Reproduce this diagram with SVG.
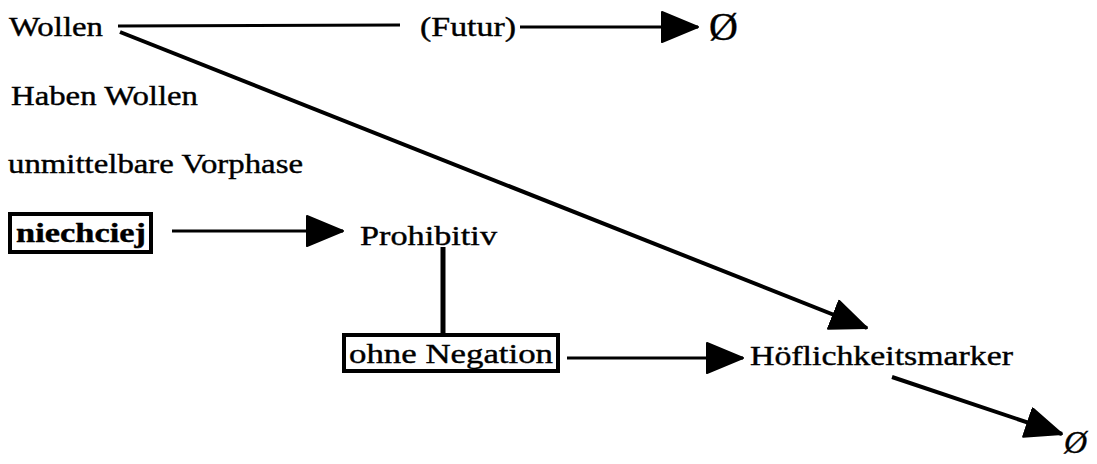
<svg xmlns="http://www.w3.org/2000/svg" width="1097" height="464" viewBox="0 0 1097 464">
<style>
text{font-family:"Liberation Serif","Times New Roman",serif;font-size:28px;fill:#000;stroke:#000;stroke-width:0.4}
.box{fill:#fff;stroke:#000;stroke-width:4}
.bt{font-weight:bold}
.c{stroke:#000;fill:none}
.nul{font-size:40px}
</style>
<defs>
<marker id="ah" markerUnits="userSpaceOnUse" markerWidth="40" markerHeight="34" refX="37" refY="16" orient="auto">
<path d="M1,1 L37,16 L1,31 Z" fill="#000" stroke="#000" stroke-width="2" stroke-linejoin="round"/>
</marker>
</defs>
<g id="connectors">
<line class="c" x1="118" y1="26" x2="400" y2="25" stroke-width="3"/>
<line class="c" x1="520" y1="27" x2="698" y2="27" stroke-width="3" marker-end="url(#ah)"/>
<line class="c" x1="120" y1="32" x2="867" y2="328" stroke-width="4" marker-end="url(#ah)"/>
<line class="c" x1="172" y1="231" x2="343" y2="231" stroke-width="3" marker-end="url(#ah)"/>
<line class="c" x1="443" y1="247" x2="443" y2="334" stroke-width="5"/>
<line class="c" x1="567" y1="358" x2="743" y2="358" stroke-width="3" marker-end="url(#ah)"/>
<line class="c" x1="892" y1="377" x2="1062" y2="434" stroke-width="4" marker-end="url(#ah)"/>
</g>
<g id="wollen"><text x="9" y="36" textLength="94" lengthAdjust="spacingAndGlyphs">Wollen</text></g>
<g id="futur"><text x="420" y="36" textLength="96" lengthAdjust="spacingAndGlyphs">(Futur)</text></g>
<g id="null1"><text class="nul" x="709" y="40">Ø</text></g>
<g id="haben"><text x="11" y="105" textLength="187" lengthAdjust="spacingAndGlyphs">Haben Wollen</text></g>
<g id="vorphase"><text x="8" y="173" textLength="295" lengthAdjust="spacingAndGlyphs">unmittelbare Vorphase</text></g>
<g id="niechciej">
<rect class="box" x="10" y="214" width="141" height="38"/>
<text class="bt" x="16" y="242" textLength="130" lengthAdjust="spacingAndGlyphs">niechciej</text>
</g>
<g id="prohibitiv"><text x="360" y="245" textLength="137" lengthAdjust="spacingAndGlyphs">Prohibitiv</text></g>
<g id="ohne">
<rect class="box" x="344" y="335" width="214" height="36"/>
<text x="349" y="363" textLength="204" lengthAdjust="spacingAndGlyphs">ohne Negation</text>
</g>
<g id="hoeflich"><text x="750" y="365" textLength="263" lengthAdjust="spacingAndGlyphs">Höflichkeitsmarker</text></g>
<g id="null2"><text x="1064" y="453" font-style="italic" style="font-size:32px">Ø</text></g>
</svg>
